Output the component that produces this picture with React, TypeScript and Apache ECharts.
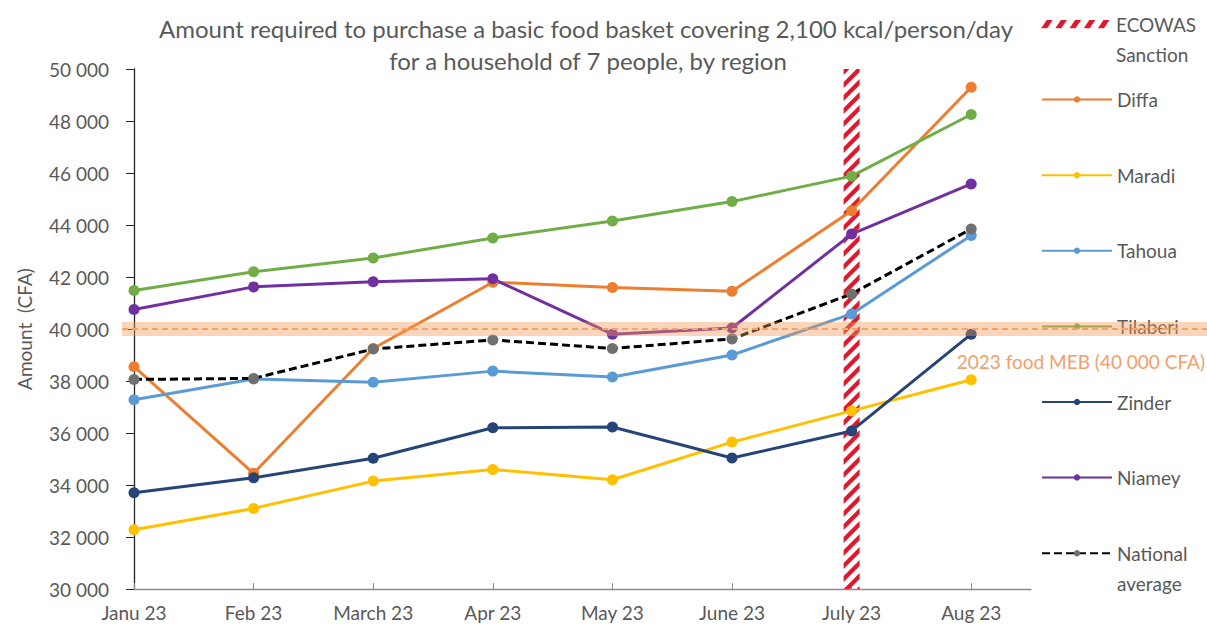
import { useEffect, useRef } from 'react';
import * as echarts from 'echarts';

// Monthly cost (CFA) of a basic food basket, 2,100 kcal/person/day, household of 7
const months = ['Janu 23', 'Feb 23', 'March 23', 'Apr 23', 'May 23', 'June 23', 'July 23', 'Aug 23'];
const diffa = [38550, 34450, 39250, 41800, 41600, 41450, 44550, 49300];
const maradi = [32280, 33100, 34150, 34600, 34200, 35650, 36850, 38050];
const tahoua = [37280, 38080, 37950, 38380, 38150, 39000, 40580, 43600];
const tilaberi = [41480, 42200, 42730, 43500, 44150, 44900, 45880, 48250];
const zinder = [33700, 34280, 35030, 36200, 36230, 35040, 36080, 39800];
const niamey = [40750, 41620, 41820, 41930, 39800, 40040, 43650, 45580];
const nationalAverage = [38060, 38100, 39230, 39580, 39250, 39620, 41350, 43850];

const sanctionMonth = 'July 23';
const mebValue = 40000;
const yMin = 30000;
const yMax = 50000;
const yStep = 2000;

const FONT = 'Lato, "Open Sans", sans-serif';
const TEXT = '#595959';
const RED = '#E0182D';

const fmt = (v: number) => String(v).replace(/\B(?=(\d{3})+(?!\d))/g, ' ');

const regions = [
  { name: 'Diffa', values: diffa, color: '#ED7D31' },
  { name: 'Maradi', values: maradi, color: '#FFC000' },
  { name: 'Tahoua', values: tahoua, color: '#5B9BD5' },
  { name: 'Tilaberi', values: tilaberi, color: '#70AD47' },
  { name: 'Zinder', values: zinder, color: '#264478' },
  { name: 'Niamey', values: niamey, color: '#7030A0' },
];

const hatchIcon = (() => {
  let polys = '';
  for (let i = 0; i < 5; i++) {
    const x = i * 14.2;
    polys += `<polygon points="${x},9 ${x + 6},9 ${x + 12},0 ${x + 6},0" fill="${RED}"/>`;
  }
  const svg = `<svg xmlns="http://www.w3.org/2000/svg" width="70" height="9" viewBox="0 0 70 9">${polys}</svg>`;
  return 'image://data:image/svg+xml;charset=utf-8,' + encodeURIComponent(svg);
})();

// Two-line labels get a blank leading line so that their first line sits beside the icon
const legendEntries = [
  { name: 'ECOWAS Sanction', label: ['ECOWAS', 'Sanction'], icon: hatchIcon },
  ...regions.map((r) => ({ name: r.name, label: [r.name], icon: undefined as string | undefined })),
  { name: 'National average', label: ['National', 'average'], icon: undefined as string | undefined },
];

const BAND_HALF = 8;
const STRIPE_STEP = 13;
const STRIPE_T = 6;

export default function App() {
  const ref = useRef<HTMLDivElement>(null);

  useEffect(() => {
    const chart = echarts.init(ref.current!, null, { renderer: 'svg' });
    const idx = months.map((_, i) => i);

    const lineSeries = regions.map((r) => ({
      type: 'line',
      name: r.name,
      data: r.values.map((v, i) => [i, v]),
      color: r.color,
      symbol: 'circle',
      symbolSize: 11,
      lineStyle: { width: 3, color: r.color },
      itemStyle: { color: r.color },
      z: 3,
    }));

    const legendStep = 75.6;
    const legendFirst = 24;

    chart.setOption({
      animation: false,
      backgroundColor: '#fff',
      textStyle: { fontFamily: FONT },
      grid: { left: 134, right: 176, top: 69, bottom: 39 },
      legend: legendEntries.map((e, i) => {
        const twoLine = e.label.length > 1;
        const center = legendFirst + i * legendStep;
        return {
          data: [e.icon ? { name: e.name, icon: e.icon } : { name: e.name }],
          left: 1041,
          top: center - (twoLine ? 45 : 10),
          padding: 0,
          selectedMode: false,
          itemWidth: 70,
          itemHeight: e.icon ? 9 : 8,
          itemGap: 0,
          formatter: () => (twoLine ? [' ', ...e.label].join('\n') : e.label[0]),
          textStyle: { color: TEXT, fontSize: 19, fontFamily: FONT, lineHeight: twoLine ? 30 : 20 },
        };
      }),
      xAxis: {
        type: 'value',
        min: 0,
        max: months.length - 0.5,
        interval: 1,
        axisLine: { show: true, lineStyle: { color: '#8C8C8C', width: 1.3 } },
        axisTick: { show: true, inside: true, length: 6, customValues: idx, lineStyle: { color: '#8C8C8C' } },
        axisLabel: {
          customValues: idx,
          formatter: (v: number) => months[v] ?? '',
          color: TEXT,
          fontSize: 19,
          fontFamily: FONT,
          margin: 14,
        },
        splitLine: { show: false },
      },
      yAxis: {
        type: 'value',
        min: yMin,
        max: yMax,
        interval: yStep,
        name: 'Amount  (CFA)',
        nameLocation: 'middle',
        nameGap: 100,
        nameTextStyle: { color: TEXT, fontSize: 19, fontFamily: FONT },
        axisLine: { show: true, lineStyle: { color: '#262626', width: 1.3 } },
        axisTick: { show: true, length: 8, lineStyle: { color: '#262626' } },
        axisLabel: { formatter: (v: number) => fmt(v), color: TEXT, fontSize: 19, fontFamily: FONT, margin: 25 },
        splitLine: { show: false },
      },
      series: [
        {
          type: 'custom',
          name: 'ECOWAS Sanction',
          color: RED,
          clip: true,
          silent: true,
          z: 1,
          data: [[months.indexOf(sanctionMonth), yMin, yMax]],
          encode: { x: 0, y: [1, 2] },
          renderItem: (_params: any, api: any) => {
            const top = api.coord([api.value(0), api.value(2)]);
            const bottom = api.coord([api.value(0), api.value(1)]);
            const x0 = top[0] - BAND_HALF;
            const x1 = top[0] + BAND_HALF;
            const w = x1 - x0;
            const children: any[] = [];
            for (let y = top[1] - w; y < bottom[1] + w; y += STRIPE_STEP) {
              children.push({
                type: 'polygon',
                shape: { points: [[x0, y + w], [x1, y], [x1, y + STRIPE_T], [x0, y + w + STRIPE_T]] },
                style: { fill: RED },
              });
            }
            return { type: 'group', children };
          },
        },
        ...lineSeries,
        {
          type: 'line',
          name: 'National average',
          data: nationalAverage.map((v, i) => [i, v]),
          color: '#707070',
          symbol: 'circle',
          symbolSize: 11,
          lineStyle: { width: 3, color: '#000', type: [8, 4] },
          itemStyle: { color: '#707070' },
          z: 4,
        },
      ],
    });

    const yMeb = chart.convertToPixel({ yAxisIndex: 0 }, mebValue) as number;
    const xStart = (chart.convertToPixel({ xAxisIndex: 0 }, 0) as number) - 12;
    const width = chart.getWidth();

    chart.setOption({
      graphic: [
        {
          type: 'text',
          x: 586,
          y: 28,
          style: {
            text: 'Amount required to purchase a basic food basket covering 2,100 kcal/person/day',
            fill: TEXT,
            fontSize: 24,
            fontFamily: FONT,
            align: 'center',
            verticalAlign: 'middle',
          },
        },
        {
          type: 'text',
          x: 588,
          y: 60,
          style: {
            text: 'for a household of 7 people, by region',
            fill: TEXT,
            fontSize: 24,
            fontFamily: FONT,
            align: 'center',
            verticalAlign: 'middle',
          },
        },
        {
          type: 'rect',
          z: 100,
          silent: true,
          shape: { x: xStart, y: yMeb - 7, width: width - xStart, height: 14 },
          style: { fill: 'rgba(245,150,80,0.4)' },
        },
        {
          type: 'line',
          z: 101,
          silent: true,
          shape: { x1: xStart, y1: yMeb, x2: width, y2: yMeb },
          style: { stroke: '#F2A46E', lineWidth: 2, lineDash: [6, 4] },
        },
        {
          type: 'text',
          z: 101,
          x: width - 2,
          y: yMeb + 32,
          style: {
            text: `2023 food MEB (${fmt(mebValue)} CFA)`,
            fill: '#F1A06B',
            fontSize: 19,
            fontFamily: FONT,
            align: 'right',
            verticalAlign: 'middle',
          },
        },
      ],
    });

    return () => chart.dispose();
  }, []);

  return (
    <div
      ref={ref}
      style={{ position: 'fixed', left: 0, top: 0, width: 1207, height: 628, background: '#fff' }}
    />
  );
}
